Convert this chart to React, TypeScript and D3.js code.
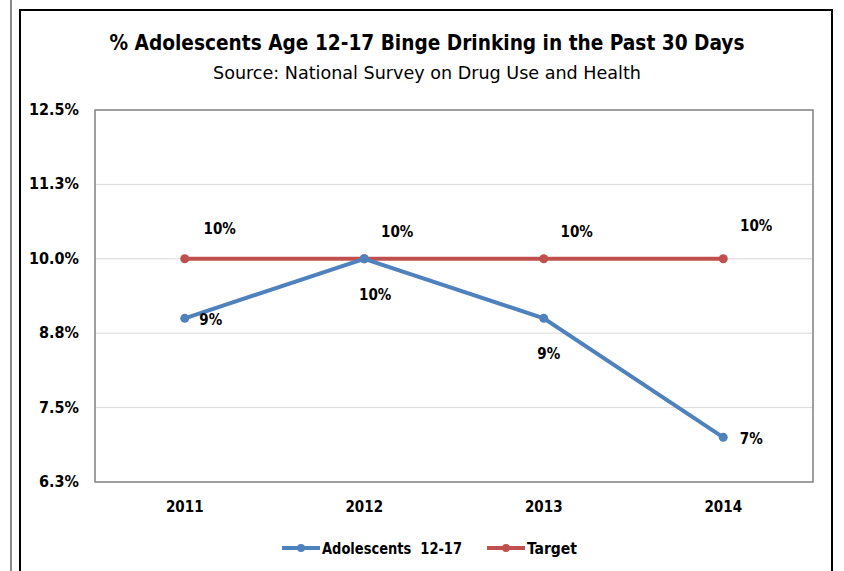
import React from "react";
import * as d3 from "d3";

const years = ["2011", "2012", "2013", "2014"];
const adolescents = [9, 10, 9, 7];
const target = [10, 10, 10, 10];
const yTicks = [6.25, 7.5, 8.75, 10, 11.25, 12.5];
const adolLabelPos = ["right", "below", "below", "right"];
const seriesNames = ["Adolescents  12-17", "Target"];

const W = 844, H = 571;
const plot = { left: 95, right: 813, top: 110, bottom: 482 };
const BLUE = "#4F81BD", RED = "#C0504D";
const FONT = "'Liberation Sans Narrow', 'DejaVu Sans Condensed', 'Liberation Sans', Arial, sans-serif";

export default function App() {
  const x = d3.scalePoint<string>().domain(years).range([plot.left, plot.right]).padding(0.5);
  const y = d3.scaleLinear().domain([6.25, 12.5]).range([plot.bottom, plot.top]);
  const line = d3.line<number>().x((_, i) => x(years[i])!).y((d) => y(d));
  const fmtTick = (v: number) => (Math.round(v * 10 + 1e-6) / 10).toFixed(1) + "%";
  const fmtVal = (v: number) => d3.format(".0f")(v) + "%";
  const targetOffsets = [[35, -30], [33, -27], [33, -27], [33, -33]];

  return (
    <svg width={W} height={H} style={{ position: "absolute", left: 0, top: 0, background: "#fff" }} fontFamily={FONT}>
      <rect x={0} y={0} width={W} height={H} fill="#fff" />
      <line x1={11} y1={0} x2={11} y2={H} stroke="#8a8a8a" strokeWidth={2} />
      <rect x={20} y={10} width={812} height={H + 20} fill="#fff" stroke="#000" strokeWidth={2} />

      <text x={427} y={50} textAnchor="middle" fontSize={22} fontWeight="bold" fill="#000" textLength={635} lengthAdjust="spacingAndGlyphs">
        % Adolescents Age 12-17 Binge Drinking in the Past 30 Days
      </text>
      <text x={427} y={79} textAnchor="middle" fontSize={18} fill="#000" textLength={428} lengthAdjust="spacingAndGlyphs">
        Source: National Survey on Drug Use and Health
      </text>

      {yTicks.map((t) => (
        <g key={t}>
          {t > 6.25 && t < 12.5 && (
            <line x1={plot.left} x2={plot.right} y1={y(t)} y2={y(t)} stroke="#D9D9D9" strokeWidth={1} />
          )}
          <text x={79} y={y(t) + 5} textAnchor="end" fontSize={16} fontWeight="bold" fill="#000">
            {fmtTick(t)}
          </text>
        </g>
      ))}
      <rect x={plot.left} y={plot.top} width={plot.right - plot.left} height={plot.bottom - plot.top} fill="none" stroke="#808080" strokeWidth={1.5} />

      {years.map((yr) => (
        <text key={yr} x={x(yr)!} y={512} textAnchor="middle" fontSize={15} fontWeight="bold" fill="#000">
          {yr}
        </text>
      ))}

      <path d={line(target)!} fill="none" stroke={RED} strokeWidth={4} />
      {target.map((v, i) => (
        <circle key={"t" + i} cx={x(years[i])!} cy={y(v)} r={4.5} fill={RED} />
      ))}
      <path d={line(adolescents)!} fill="none" stroke={BLUE} strokeWidth={4} />
      {adolescents.map((v, i) => (
        <circle key={"a" + i} cx={x(years[i])!} cy={y(v)} r={4.5} fill={BLUE} />
      ))}

      {target.map((v, i) => (
        <text key={"tl" + i} x={x(years[i])! + targetOffsets[i][0]} y={y(v) + targetOffsets[i][1] + 5} textAnchor="middle" fontSize={15} fontWeight="bold" fill="#000">
          {fmtVal(v)}
        </text>
      ))}
      {adolescents.map((v, i) => {
        const cx = x(years[i])!;
        const cy = y(v);
        const pos = adolLabelPos[i];
        const lx = pos === "right" ? cx + 26 + (i === 3 ? 2 : 0) : cx + (i === 1 ? 11 : 5);
        const ly = pos === "right" ? cy + 7 : cy + 41;
        return (
          <text key={"al" + i} x={lx} y={ly} textAnchor="middle" fontSize={15} fontWeight="bold" fill="#000">
            {fmtVal(v)}
          </text>
        );
      })}

      <g transform="translate(282,548)">
        <line x1={0} x2={38} y1={0} y2={0} stroke={BLUE} strokeWidth={4} />
        <circle cx={19} cy={0} r={4} fill={BLUE} />
        <text x={40} y={6} fontSize={16} fontWeight="bold" fill="#000" xmlSpace="preserve" textLength={140} lengthAdjust="spacingAndGlyphs">{seriesNames[0]}</text>
        <line x1={205} x2={243} y1={0} y2={0} stroke={RED} strokeWidth={4} />
        <circle cx={224} cy={0} r={4} fill={RED} />
        <text x={245} y={6} fontSize={16} fontWeight="bold" fill="#000" textLength={50} lengthAdjust="spacingAndGlyphs">{seriesNames[1]}</text>
      </g>
    </svg>
  );
}
